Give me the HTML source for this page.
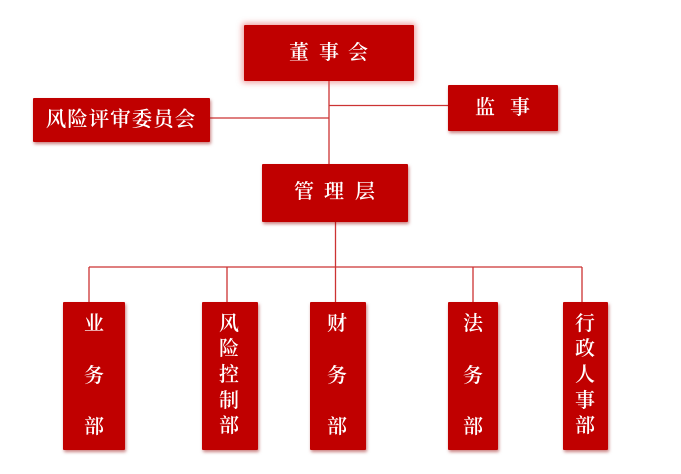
<!DOCTYPE html>
<html><head><meta charset="utf-8"><style>
html,body{margin:0;padding:0;background:#fff;}
#c{position:relative;width:681px;height:474px;overflow:hidden;background:#fff;font-family:"Liberation Serif","Noto Serif CJK SC",serif;}
.b{position:absolute;background:#c00000;color:#fff;box-shadow:1px 2px 3px rgba(150,0,0,0.5);border-radius:1px;}
.t{position:absolute;color:#fff;font-size:20px;line-height:20px;font-weight:600;white-space:nowrap;transform:translate(-50%,-50%);}
svg{position:absolute;left:0;top:0;}
</style></head><body><div id="c">
<svg width="681" height="474">
<g stroke="#cc3333" stroke-width="1.3" fill="none">
<line x1="329" y1="81" x2="329" y2="164"/>
<line x1="329" y1="105.5" x2="448" y2="105.5"/>
<line x1="210" y1="118" x2="329" y2="118"/>
<line x1="335.5" y1="222" x2="335.5" y2="302"/>
<line x1="89" y1="267" x2="582" y2="267"/>
<line x1="89" y1="267" x2="89" y2="302"/>
<line x1="227" y1="267" x2="227" y2="302"/>
<line x1="473" y1="267" x2="473" y2="302"/>
<line x1="582" y1="267" x2="582" y2="302"/>
</g>
</svg>
<div class="b" style="left:244px;top:25px;width:170px;height:56px;box-shadow:0 0 6px 2px rgba(225,90,90,0.55);"></div>
<div class="t" style="left:299px;top:53px;">董</div>
<div class="t" style="left:329px;top:53px;">事</div>
<div class="t" style="left:358px;top:53px;">会</div>

<div class="b" style="left:33px;top:98px;width:177px;height:44px;"></div>
<div class="t" style="left:121px;top:120px;font-size:20.5px;letter-spacing:1px;">风险评审委员会</div>

<div class="b" style="left:448px;top:85px;width:110px;height:46px;"></div>
<div class="t" style="left:485px;top:108px;">监</div>
<div class="t" style="left:520px;top:108px;">事</div>

<div class="b" style="left:262px;top:164px;width:146px;height:58px;"></div>
<div class="t" style="left:304px;top:192px;">管</div>
<div class="t" style="left:334px;top:192px;">理</div>
<div class="t" style="left:365px;top:192px;">层</div>

<div class="b" style="left:63px;top:302px;width:62px;height:148px;"></div>
<div class="t" style="left:94px;top:324px;">业</div>
<div class="t" style="left:94px;top:376px;">务</div>
<div class="t" style="left:94px;top:427px;">部</div>

<div class="b" style="left:202px;top:302px;width:56px;height:148px;"></div>
<div class="t" style="left:229px;top:324px;">风</div>
<div class="t" style="left:229px;top:349px;">险</div>
<div class="t" style="left:229px;top:375px;">控</div>
<div class="t" style="left:229px;top:401px;">制</div>
<div class="t" style="left:229px;top:426px;">部</div>

<div class="b" style="left:310px;top:302px;width:56px;height:148px;"></div>
<div class="t" style="left:337px;top:324px;">财</div>
<div class="t" style="left:337px;top:376px;">务</div>
<div class="t" style="left:337px;top:427px;">部</div>

<div class="b" style="left:448px;top:302px;width:50px;height:148px;"></div>
<div class="t" style="left:473px;top:324px;">法</div>
<div class="t" style="left:473px;top:376px;">务</div>
<div class="t" style="left:473px;top:427px;">部</div>

<div class="b" style="left:563px;top:302px;width:45px;height:148px;"></div>
<div class="t" style="left:585px;top:324px;">行</div>
<div class="t" style="left:585px;top:349px;">政</div>
<div class="t" style="left:585px;top:375px;">人</div>
<div class="t" style="left:585px;top:401px;">事</div>
<div class="t" style="left:585px;top:426px;">部</div>
</div></body></html>
